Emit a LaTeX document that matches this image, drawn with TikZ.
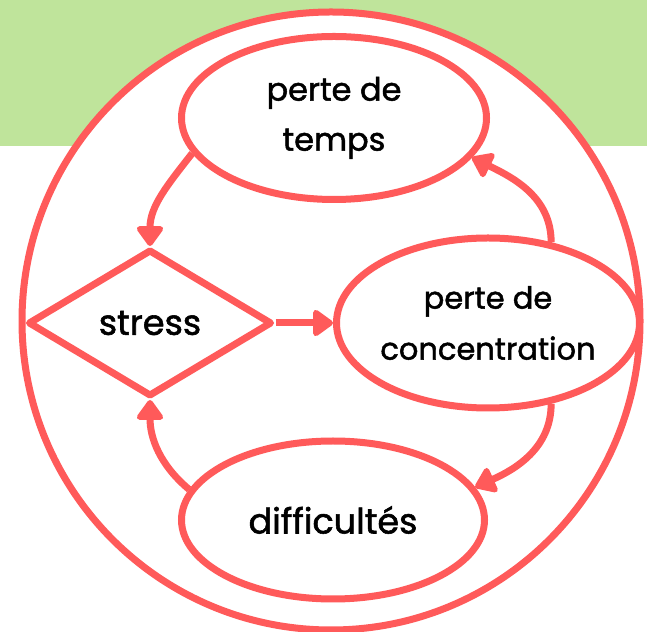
\documentclass[tikz,border=0pt]{standalone}
\usepackage{fontspec}
\setmainfont{Poppins}[UprightFeatures={FakeBold=1.6}]
\usepackage{xcolor}
\usetikzlibrary{arrows.meta,shapes.geometric}
\definecolor{loopred}{HTML}{FF5A5A}
\definecolor{bandgreen}{HTML}{BFE49B}

\begin{document}
\begin{tikzpicture}[x=1pt,y=1pt,
        bubble/.style={ellipse,draw=loopred,line width=7pt,fill=white,inner sep=-14pt,
            align=center,font=\fontsize{32}{50}\selectfont},
        choice/.style={diamond,draw=loopred,line width=7pt,fill=white,inner sep=0pt,
            line join=round,minimum width=244pt,minimum height=147pt,font=\fontsize{35}{50}\selectfont},
        flow/.style={loopred,line width=7pt,-{Triangle[width=30pt,length=22pt,round]}}]
        \useasboundingbox (0,0) rectangle (647,631);

        % Background band and outer ring
        \fill[bandgreen] (0,485) rectangle (647,631);
        \draw[loopred,line width=7pt,fill=white] (331,310) circle (309);

        % Nodes
        \node[bubble,minimum width=305pt,minimum height=163pt] (temps) at (334,513) {perte de\\temps};
        \node[choice] (stress) at (150,308) {stress};
        \node[bubble,minimum width=303pt,minimum height=170pt,font=\fontsize{30.5}{51}\selectfont] (concentration) at (488,308) {perte de\\concentration};
        \node[bubble,minimum width=303pt,minimum height=158pt,font=\fontsize{35}{50}\selectfont] (difficultes) at (333,111) {difficultés};

        % Loop arrows
        \draw[flow] (stress.east) -- (concentration.west);
        \draw[flow] (temps.194) to[out=232,in=90] (stress.north);
        \draw[flow] (concentration.52) to[out=90,in=-26] (temps.344);
        \draw[flow] (concentration.-52) to[out=270,in=24] (difficultes.13);
        \draw[flow] (difficultes.168) to[out=140,in=270] (stress.south);
    \end{tikzpicture}
\end{document}
